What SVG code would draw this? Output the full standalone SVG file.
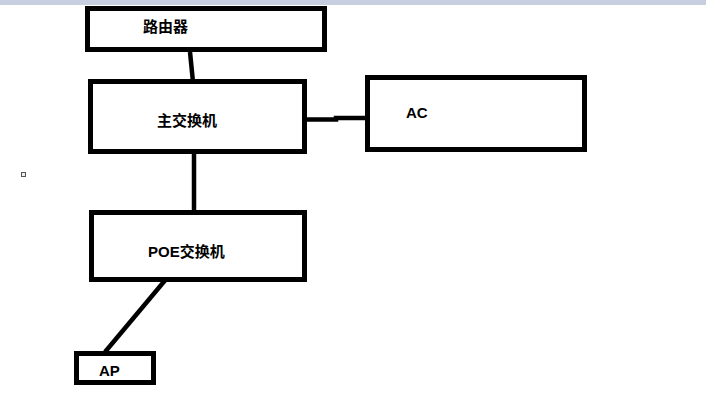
<svg xmlns="http://www.w3.org/2000/svg" width="706" height="401" viewBox="0 0 706 401">
<style>
.box{fill:#fff;stroke:#000;stroke-width:5}
.lbl{font-family:"Liberation Sans","Noto Sans CJK SC",sans-serif;font-weight:bold;font-size:15px;fill:#000}
.ln{fill:none;stroke:#000;stroke-width:4.5}
</style>
<rect x="0" y="0" width="706" height="401" fill="#fff"/>
<rect x="0" y="0" width="706" height="5" fill="#c6cee0"/>
<rect x="21.5" y="172.5" width="4" height="4" fill="#eee" stroke="#555" stroke-width="1"/>
<g id="connectors">
<line class="ln" x1="190" y1="52" x2="193" y2="82"/>
<polyline class="ln" points="306,119.5 336,119.5 336,118 366,118"/>
<line class="ln" x1="194" y1="153" x2="194" y2="211"/>
<line class="ln" x1="167" y1="278" x2="105" y2="352"/>
</g>
<g id="router">
<rect class="box" x="87.5" y="8.5" width="237" height="41"/>
<text class="lbl" x="143" y="32">路由器</text>
</g>
<g id="main-switch">
<rect class="box" x="90.5" y="81.5" width="214" height="70"/>
<text class="lbl" x="157" y="126">主交换机</text>
</g>
<g id="ac">
<rect class="box" x="367.5" y="77.5" width="217" height="72"/>
<text class="lbl" x="406" y="118">AC</text>
</g>
<g id="poe-switch">
<rect class="box" x="91.5" y="212.5" width="213" height="67"/>
<text class="lbl" x="148" y="257">POE交换机</text>
</g>
<g id="ap">
<rect class="box" x="76.5" y="353.5" width="77" height="29"/>
<text class="lbl" x="99" y="376">AP</text>
</g>
</svg>
